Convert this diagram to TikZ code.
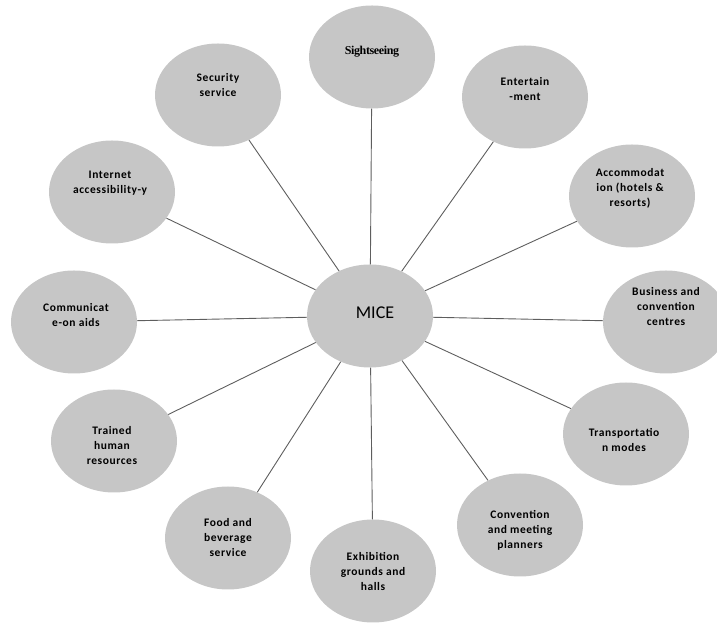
\documentclass[tikz,border=0pt]{standalone}
\usepackage{fontspec}
\setmainfont{Liberation Serif}
\newfontfamily\labfont{Carlito}[LetterSpace=5]
\newfontfamily\micefont{Carlito}
\usetikzlibrary{shapes.geometric}
\definecolor{bubble}{HTML}{C6C6C6}
\definecolor{spoke}{HTML}{5E5E5E}
\tikzset{
  bub/.style={ellipse, fill=bubble, minimum width=126pt, minimum height=103pt, inner sep=0pt},
  lab/.style={align=center, font=\labfont\bfseries\fontsize{11.5}{15}\selectfont, text=black, inner sep=0pt},
  spk/.style={draw=spoke, line width=0.9pt}
}
\begin{document}
\begin{tikzpicture}[x=1pt,y=1pt]
\useasboundingbox (0,0) rectangle (717,623);
\begin{scope}
\clip (0,0) rectangle (717,623);
\node[bub] (mice) at (370,307) {};
\node[bub] (sight) at (372,566) {};
\node[bub] (secu) at (218,528) {};
\node[bub] (ent) at (525,526) {};
\node[bub] (acc) at (632,427) {};
\node[bub] (inet) at (112,431) {};
\node[bub] (comm) at (74,301) {};
\node[bub] (bus) at (666,301) {};
\node[bub] (hum) at (114,182) {};
\node[bub] (trans) at (626,189) {};
\node[bub] (food) at (228,85) {};
\node[bub] (exh) at (373,52) {};
\node[bub] (conv) at (520,98) {};
\foreach \n in {sight,secu,ent,acc,inet,comm,bus,hum,trans,food,exh,conv}
  \draw[spk] (mice) -- (\n);
\end{scope}
\node[inner sep=0pt, font=\micefont\fontsize{18}{20}\selectfont] (tmice) at (375,310) {MICE};
\node[inner sep=0pt, font=\bfseries\fontsize{12}{14}\selectfont] (tsight) at (372,571) {\addfontfeature{LetterSpace=-3}Sightseeing};
\node[lab] (tsecu) at (218,538) {Security\\service};
\node[lab] (tent) at (525,534) {Entertain\\-ment};
\node[lab] (tacc) at (630,435) {Accommodat\\ion (hotels \&\\resorts)};
\node[lab] (tinet) at (110,440) {Internet\\accessibility-y};
\node[lab] (tcomm) at (76,308) {Communicat\\e-on aids};
\node[lab] (tbus) at (666,316) {Business and\\convention\\centres};
\node[lab] (thum) at (112,177) {Trained\\human\\resources};
\node[lab] (ttrans) at (624,183) {Transportatio\\n modes};
\node[lab] (tfood) at (228,85) {Food and\\beverage\\service};
\node[lab] (texh) at (373,51) {Exhibition\\grounds and\\halls};
\node[lab] (tconv) at (520,93) {Convention\\and meeting\\planners};
\end{tikzpicture}
\end{document}
